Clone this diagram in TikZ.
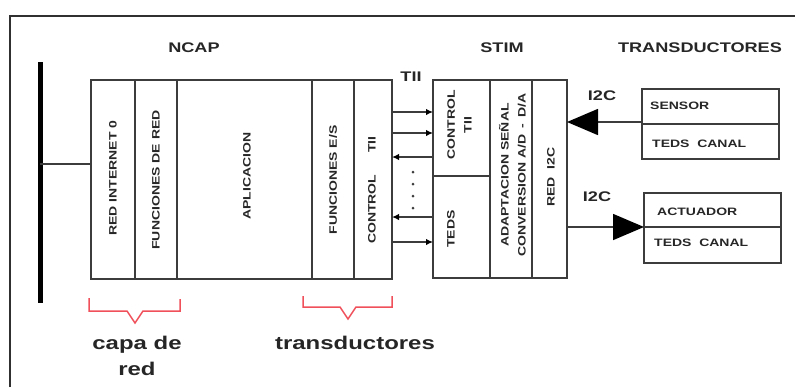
\documentclass[tikz,border=0pt]{standalone}
\usepackage{fontspec}
\setmainfont{Liberation Sans}
\usepackage{graphicx}
\usetikzlibrary{arrows.meta}
\definecolor{txt}{RGB}{38,38,38}
\definecolor{ln}{RGB}{60,60,60}
\definecolor{brc}{RGB}{240,80,90}
\newcommand\hstr[1]{\scalebox{1.3}[1]{#1}}
\begin{document}
\begin{tikzpicture}[x=1bp,y=-1bp,
  cell/.style={draw=ln, line width=1.6bp, inner sep=0, outer sep=0},
  lbl/.style={inner sep=0, text=txt, font=\fontsize{10.8}{17}\selectfont\bfseries, align=center},
  vlbl/.style={lbl, rotate=90},
  head/.style={inner sep=0, text=txt, font=\fontsize{14}{16}\selectfont\bfseries},
  big/.style={inner sep=0, text=txt, font=\fontsize{18.5}{26}\selectfont\bfseries, align=center},
  link/.style={draw=ln, line width=1.5bp, -{Latex[length=7bp,width=6.5bp,color=black]}},
  bus/.style={draw=ln, line width=1.6bp, -{Triangle[length=31bp,width=26bp,color=black]}},
  frame/.style={draw=ln!80!black, line width=2bp},
  bracestyle/.style={draw=brc, line width=1.5bp, line join=miter}]
\useasboundingbox (0,0) rectangle (795,387);
% frame
\coordinate (fbl) at (10,387); \coordinate (ftl) at (10,16); \coordinate (ftr) at (795,16);
\draw[frame] (fbl) -- (ftl) -- (ftr);
% network bar
\coordinate (bartop) at (40,62); \coordinate (barbot) at (40,303); \coordinate (tap) at (40,164);
\draw[black, line width=5bp] (bartop) -- (barbot);
% NCAP cells
\node[cell, minimum width=44bp, minimum height=199bp] (c1) at (113,179.5) {};
\node[cell, minimum width=42bp, minimum height=199bp] (c2) at (156,179.5) {};
\node[cell, minimum width=135bp, minimum height=199bp] (c3) at (244.5,179.5) {};
\node[cell, minimum width=42bp, minimum height=199bp] (c4) at (333,179.5) {};
\node[cell, minimum width=38bp, minimum height=199bp] (c5) at (373,179.5) {};
\draw[draw=ln, line width=2bp] (tap) -- (tap -| c1.west);
\node[vlbl] (t1) at (113,178) {\hstr{RED INTERNET 0}};
\node[vlbl] (t2) at (156,180) {\hstr{FUNCIONES DE RED}};
\node[vlbl] (t3) at (247,176) {\hstr{APLICACION}};
\node[vlbl] (t4) at (333,180) {\hstr{FUNCIONES E/S}};
\node[vlbl] (t5) at (372,190) {\hstr{CONTROL\hspace{17bp}TII}};
% STIM cells
\node[cell, minimum width=57bp, minimum height=96bp] (s1) at (461.5,128) {};
\node[cell, minimum width=57bp, minimum height=102bp] (s1b) at (461.5,227) {};
\node[cell, minimum width=42bp, minimum height=198bp] (s2) at (511,179) {};
\node[cell, minimum width=35bp, minimum height=198bp] (s3) at (549.5,179) {};
\node[vlbl] (u1) at (459.5,125) {\hstr{CONTROL}\\\hstr{TII}};
\node[vlbl] (u2) at (451,229) {\hstr{TEDS}};
\node[vlbl] (u3) at (512.5,175) {\hstr{ADAPTACION SEÑAL}\\\hstr{CONVERSION A/D\ \,-\ \,D/A}};
\node[vlbl] (u4) at (551,177) {\hstr{RED\ \ I2C}};
% headers
\node[head] (hn) at (194,48) {\hstr{NCAP}};
\node[head] (hs) at (502,48) {\hstr{STIM}};
\node[head] (ht) at (700,48) {\hstr{TRANSDUCTORES}};
\node[head] (htii) at (411,77) {\hstr{TII}};
\node[head] (hi1) at (602,96) {\hstr{I2C}};
\node[head] (hi2) at (597,197) {\hstr{I2C}};
% TII arrows
\coordinate (a1) at (392,112); \coordinate (a2) at (392,133); \coordinate (a3) at (392,157);
\coordinate (a4) at (392,217); \coordinate (a5) at (392,242);
\draw[link] (a1) -- (a1 -| s1.west);
\draw[link] (a2) -- (a2 -| s1.west);
\draw[link] (a3 -| s1.west) -- (a3);
\draw[link] (a4 -| s1.west) -- (a4);
\draw[link] (a5) -- (a5 -| s1.west);
\foreach \yy in {172,184,196,208} \fill[ln] (413,\yy) circle (1.5bp);
% transducers
\node[cell, minimum width=137bp, minimum height=35bp] (sens) at (710.5,106.5) {};
\node[cell, minimum width=137bp, minimum height=35bp] (steds) at (710.5,141.5) {};
\node[cell, minimum width=137bp, minimum height=34bp] (act) at (712.5,210) {};
\node[cell, minimum width=137bp, minimum height=36bp] (ateds) at (712.5,245) {};
\node[lbl, anchor=west] (l1) at (650,105.5) {\hstr{SENSOR}};
\node[lbl, anchor=west] (l2) at (652,144) {\hstr{TEDS\ \ CANAL}};
\node[lbl, anchor=west] (l3) at (657,212) {\hstr{ACTUADOR}};
\node[lbl, anchor=west] (l4) at (654,243) {\hstr{TEDS\ \ CANAL}};
\coordinate (p1) at (642,122); \coordinate (p2) at (567,227);
\draw[bus] (p1) -- (p1 -| s3.east);
\draw[bus] (p2) -- (p2 -| act.west);
% braces
\draw[bracestyle] (89,298) -- (89,311) -- (127,311) -- (135,323) -- (143,311) -- (180,311) -- (180,299);
\draw[bracestyle] (303,296) -- (303,307) -- (340,307) -- (348,319) -- (356,307) -- (392,307) -- (392,296);
\node[big] (capa) at (137,356) {\hstr{capa de}\\\hstr{red}};
\node[big] (trans) at (355,343) {\hstr{transductores}};
\end{tikzpicture}
\end{document}
